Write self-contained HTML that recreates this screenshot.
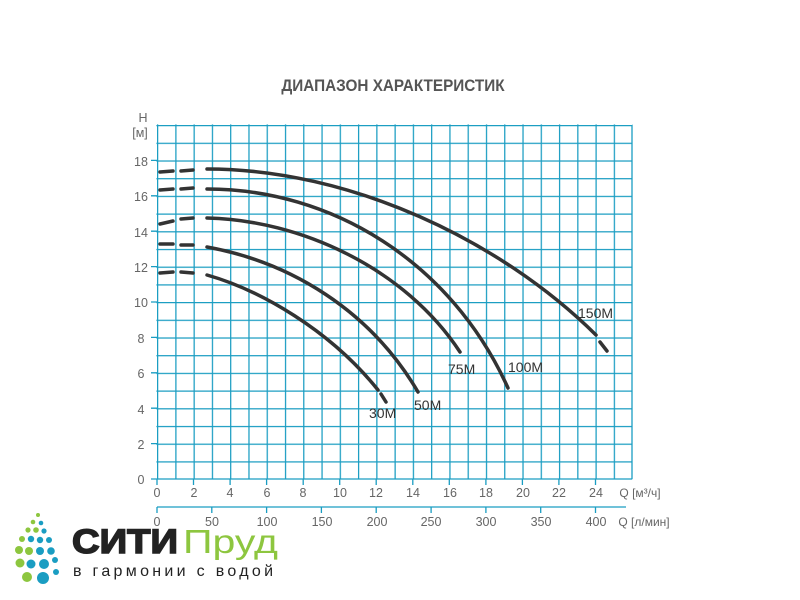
<!DOCTYPE html>
<html><head><meta charset="utf-8"><style>
html,body{margin:0;padding:0;background:#fff;width:800px;height:600px;overflow:hidden}
svg{display:block}
</style></head><body>
<svg width="800" height="600" xmlns="http://www.w3.org/2000/svg" font-family="Liberation Sans, DejaVu Sans, sans-serif">
<defs>
<pattern id="gp" x="157" y="125" width="18.27" height="17.7" patternUnits="userSpaceOnUse">
<path d="M0.6 0V17.7M0 0.6H18.27" stroke="#1a9dc2" stroke-width="1.3" fill="none"/>
</pattern>
</defs>
<text x="393" y="91" text-anchor="middle" font-size="17" font-weight="bold" fill="#555" transform="translate(393,0) scale(0.9,1) translate(-393,0)">ДИАПАЗОН ХАРАКТЕРИСТИК</text>
<rect x="156.4" y="124.4" width="476" height="355" fill="url(#gp)"/>
<g stroke="#1a9dc2" stroke-width="1.3" fill="none">
<path d="M632 125V479M157 479H632"/>
<path d="M151 479H157M151 443.6H157M151 408.2H157M151 372.8H157M151 337.4H157M151 302H157M151 266.6H157M151 231.2H157M151 195.8H157M151 160.4H157"/>
<path d="M157 479V485M193.5 479V485M230.1 479V485M266.6 479V485M303.2 479V485M339.7 479V485M376.2 479V485M412.8 479V485M449.3 479V485M485.9 479V485M522.4 479V485M558.9 479V485M595.5 479V485"/>
<path d="M157 507H626M157 507V513M211.8 507V513M266.6 507V513M321.4 507V513M376.2 507V513M431.1 507V513M485.9 507V513M540.7 507V513M595.5 507V513"/>
</g>
<g font-size="12.5" fill="#666" text-anchor="middle">
<text x="143" y="122">H</text><text x="140" y="137">[м]</text>
<text x="141" y="166">18</text><text x="141" y="201">16</text><text x="141" y="237">14</text><text x="141" y="272">12</text><text x="141" y="307">10</text><text x="141" y="343">8</text><text x="141" y="378">6</text><text x="141" y="414">4</text><text x="141" y="449">2</text><text x="141" y="484">0</text>
<text x="157" y="497">0</text><text x="194" y="497">2</text><text x="230" y="497">4</text><text x="267" y="497">6</text><text x="303" y="497">8</text><text x="340" y="497">10</text><text x="376" y="497">12</text><text x="413" y="497">14</text><text x="450" y="497">16</text><text x="486" y="497">18</text><text x="523" y="497">20</text><text x="559" y="497">22</text><text x="596" y="497">24</text>
<text x="157" y="526">0</text><text x="212" y="526">50</text><text x="267" y="526">100</text><text x="322" y="526">150</text><text x="377" y="526">200</text><text x="431" y="526">250</text><text x="486" y="526">300</text><text x="541" y="526">350</text><text x="596" y="526">400</text>
<text x="640" y="497" font-size="12">Q [м³/ч]</text>
<text x="644" y="526" font-size="12">Q [л/мин]</text>
</g>
<g stroke="#333" stroke-width="3.5" fill="none" stroke-linecap="round">
<path d="M160 172L173 171M181 171L193 170"/>
<path d="M207 169C350 169 500 240 596 335"/>
<path d="M600 342L607 351"/>
<path d="M160 190L173 189M181 189L193 188"/>
<path d="M207 189C330 189 450 260 508 388"/>
<path d="M160 224L173 221M181 219L193 218"/>
<path d="M207 218C300 220 405 268 460 352"/>
<path d="M160 244L173 244M181 245L193 245"/>
<path d="M207 247C290 262 370 310 418 392"/>
<path d="M160 273L173 272M181 272L193 273"/>
<path d="M207 275C260 290 330 330 378 390"/>
<path d="M381 394L386 402"/>
</g>
<g font-size="14" fill="#333">
<text x="578" y="318">150M</text>
<text x="508" y="372">100M</text>
<text x="448" y="374">75M</text>
<text x="414" y="410">50M</text>
<text x="369" y="418">30M</text>
</g>
<g>
<circle cx="38" cy="515" r="2" fill="#8dc63f"/><circle cx="33" cy="522" r="2.3" fill="#8dc63f"/><circle cx="41" cy="523" r="2.3" fill="#1a9dc2"/>
<circle cx="28" cy="530" r="2.6" fill="#8dc63f"/><circle cx="36" cy="530" r="2.8" fill="#8dc63f"/><circle cx="44" cy="531" r="2.6" fill="#1a9dc2"/>
<circle cx="22" cy="539" r="3" fill="#8dc63f"/><circle cx="31" cy="539" r="3.2" fill="#1a9dc2"/><circle cx="40" cy="540" r="3.2" fill="#1a9dc2"/><circle cx="49" cy="540" r="3" fill="#1a9dc2"/>
<circle cx="19" cy="550" r="4" fill="#8dc63f"/><circle cx="29" cy="551" r="4" fill="#8dc63f"/><circle cx="40" cy="551" r="4" fill="#1a9dc2"/><circle cx="51" cy="551" r="3.8" fill="#1a9dc2"/>
<circle cx="20" cy="563" r="4.5" fill="#8dc63f"/><circle cx="31" cy="564" r="4.5" fill="#1a9dc2"/><circle cx="44" cy="564" r="5" fill="#1a9dc2"/><circle cx="55" cy="560" r="3" fill="#1a9dc2"/>
<circle cx="27" cy="577" r="5" fill="#8dc63f"/><circle cx="43" cy="578" r="6" fill="#1a9dc2"/><circle cx="56" cy="572" r="3" fill="#1a9dc2"/>
</g>
<text x="72" y="553" font-size="34" font-weight="900" fill="#222" stroke="#222" stroke-width="1.5" textLength="106" lengthAdjust="spacingAndGlyphs">СИТИ</text>
<text x="183" y="553" font-size="33" fill="#8dc63f" textLength="95" lengthAdjust="spacingAndGlyphs">Пруд</text>
<text x="73" y="576" font-size="16" fill="#222" textLength="200" lengthAdjust="spacing">в гармонии с водой</text>
</svg>
</body></html>
